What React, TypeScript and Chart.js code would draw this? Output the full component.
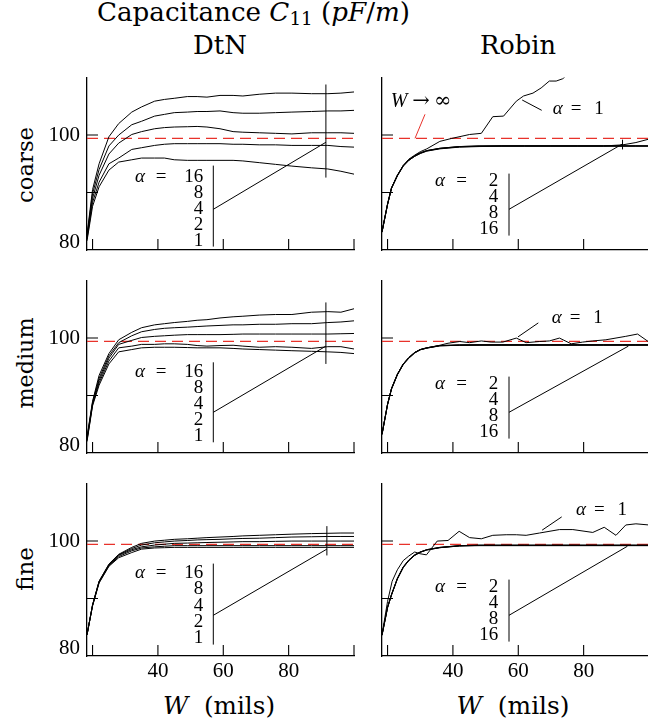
import React, { useEffect, useLayoutEffect, useRef, useState } from 'react';
import { Chart, registerables } from 'chart.js';

Chart.register(...registerables);

// ---------- axes ----------
const X_MIN = 18.3;
const X_MAX = 100;
const Y_MIN = 80;
const Y_MAX = 110;
const X_TICKS = [20, 40, 60, 80, 100];
const X_TICK_LABELS = [40, 60, 80];
const Y_TICKS = [80, 90, 100];
const Y_TICK_LABELS = [80, 100];
const C_INFINITY = 99.43;

const ALPHA_DTN = ['16', '8', '4', '2', '1'];
const ALPHA_ROBIN = ['2', '4', '8', '16'];

// ---------- DtN data ----------
const W_DTN = [18.3, 20, 22, 25, 28, 32, 35, 39, 42, 45, 49, 52, 55, 59, 63, 66, 71, 76, 81, 87, 92, 96, 100];

const COARSE_DTN_16 = [82.7, 90.5, 95.0, 99.7, 102.0, 104.0, 104.9, 105.9, 106.2, 106.4, 106.7, 106.7, 106.6, 106.9, 106.9, 106.8, 107.1, 107.3, 107.3, 107.2, 107.2, 107.3, 107.5];
const COARSE_DTN_8 = [82.4, 89.8, 94.0, 98.1, 100.0, 101.8, 102.4, 103.3, 103.6, 103.9, 104.0, 104.1, 104.1, 104.2, 103.9, 103.8, 103.8, 103.9, 104.0, 104.1, 104.2, 104.2, 104.3];
const COARSE_DTN_4 = [82.2, 89.0, 93.0, 96.7, 98.6, 100.1, 100.6, 101.1, 101.3, 101.4, 101.45, 101.5, 101.4, 101.1, 100.6, 100.5, 100.4, 100.3, 100.2, 100.4, 100.4, 100.4, 100.3];
const COARSE_DTN_2 = [81.9, 88.3, 91.8, 95.0, 96.0, 97.5, 97.8, 98.2, 98.4, 98.5, 98.5, 98.5, 98.5, 98.5, 98.4, 98.4, 98.3, 98.3, 98.2, 98.2, 98.2, 98.0, 97.9];
const COARSE_DTN_1 = [81.6, 87.6, 91.0, 93.9, 95.3, 95.7, 96.0, 96.0, 96.0, 95.7, 95.6, 95.6, 95.6, 95.6, 95.6, 95.5, 95.2, 94.9, 94.6, 94.3, 94.1, 93.7, 93.2];

const MEDIUM_DTN_16 = [82.8, 89.0, 93.5, 97.3, 99.7, 101.0, 101.8, 102.3, 102.5, 102.7, 102.9, 103.1, 103.2, 103.5, 103.7, 103.8, 104.0, 104.1, 104.1, 104.5, 104.6, 104.5, 105.1];
const MEDIUM_DTN_8 = [82.6, 88.8, 93.0, 96.9, 99.2, 100.4, 101.1, 101.5, 101.7, 101.8, 101.9, 102.0, 102.1, 102.2, 102.3, 102.3, 102.4, 102.4, 102.5, 102.5, 102.7, 102.8, 103.0];
const MEDIUM_DTN_4 = [82.4, 88.6, 92.6, 96.5, 98.9, 99.6, 100.1, 100.3, 100.4, 100.5, 100.6, 100.6, 100.6, 100.6, 100.65, 100.7, 100.7, 100.7, 100.7, 100.7, 100.7, 100.75, 100.8];
const MEDIUM_DTN_2 = [82.2, 88.4, 92.2, 96.0, 98.3, 98.6, 98.9, 98.9, 99.0, 99.0, 98.9, 98.7, 98.6, 98.7, 98.75, 98.6, 98.4, 98.5, 98.4, 98.2, 98.5, 98.5, 98.1];
const MEDIUM_DTN_1 = [82.0, 88.2, 91.8, 95.5, 97.6, 98.0, 98.3, 98.4, 98.4, 98.4, 98.35, 98.3, 98.3, 98.3, 98.2, 98.1, 98.0, 97.9, 97.8, 97.7, 97.6, 97.5, 97.3];

const FINE_DTN_16 = [83.7, 88.9, 93.0, 96.0, 97.7, 98.9, 99.6, 100.0, 100.15, 100.3, 100.4, 100.5, 100.6, 100.7, 100.8, 100.9, 101.0, 101.1, 101.2, 101.3, 101.35, 101.4, 101.4];
const FINE_DTN_8 = [83.7, 88.9, 93.0, 95.9, 97.6, 98.7, 99.3, 99.7, 99.85, 100.0, 100.1, 100.2, 100.25, 100.3, 100.4, 100.45, 100.5, 100.6, 100.7, 100.75, 100.8, 100.8, 100.8];
const FINE_DTN_4 = [83.7, 88.8, 92.9, 95.8, 97.5, 98.5, 99.0, 99.3, 99.45, 99.6, 99.65, 99.7, 99.75, 99.8, 99.85, 99.9, 99.9, 99.95, 100.0, 100.0, 100.0, 100.0, 100.0];
const FINE_DTN_2 = [83.7, 88.8, 92.8, 95.7, 97.3, 98.3, 98.8, 99.0, 99.1, 99.2, 99.2, 99.2, 99.2, 99.2, 99.2, 99.2, 99.2, 99.2, 99.2, 99.2, 99.2, 99.2, 99.2];
const FINE_DTN_1 = [83.7, 88.7, 92.7, 95.6, 97.1, 98.0, 98.6, 98.8, 98.85, 98.9, 98.9, 98.9, 98.9, 98.9, 98.9, 98.9, 98.9, 98.9, 98.9, 98.9, 98.9, 98.9, 98.9];

// ---------- Robin data ----------
const W_ROBIN = [18.3, 20, 21.2, 23, 24.8, 26.5, 28.3, 30, 32, 36, 42, 48, 55, 62, 70, 78, 86, 92, 96, 100];

const COARSE_ROBIN_2 = [83.2, 88.0, 90.8, 93.0, 94.7, 95.7, 96.4, 96.9, 97.3, 97.7, 98.0, 98.1, 98.1, 98.1, 98.1, 98.1, 98.1, 98.3, 98.7, 99.3];
const COARSE_ROBIN_4 = [83.2, 88.0, 90.8, 93.0, 94.7, 95.7, 96.4, 96.9, 97.3, 97.7, 98.0, 98.1, 98.15, 98.15, 98.15, 98.15, 98.15, 98.15, 98.15, 98.15];
const COARSE_ROBIN_8 = [83.1, 87.9, 90.7, 92.9, 94.6, 95.6, 96.3, 96.8, 97.25, 97.65, 97.95, 98.05, 98.1, 98.1, 98.1, 98.1, 98.1, 98.1, 98.1, 98.1];
const COARSE_ROBIN_16 = [83.1, 87.9, 90.7, 92.9, 94.6, 95.6, 96.3, 96.8, 97.2, 97.6, 97.9, 98.0, 98.05, 98.05, 98.05, 98.05, 98.05, 98.05, 98.05, 98.05];
const W_COARSE_ROBIN_1 = [18.3, 20, 21.2, 23, 24.8, 26.5, 28.3, 30, 32, 36, 39.5, 45.1, 48.7, 52.2, 55.5, 59.4, 61.6, 64.5, 67, 69.5, 71.6, 73.6, 76, 80];
const COARSE_ROBIN_1 = [83.2, 88.0, 90.8, 93.0, 94.7, 95.8, 96.5, 97.1, 97.6, 98.9, 99.4, 100.1, 100.3, 103.2, 103.3, 105.9, 106.8, 107.3, 108.2, 109.4, 109.4, 109.8, 111.0, 112.0];

const MEDIUM_ROBIN_2 = [83.3, 88.5, 91.2, 93.7, 95.5, 96.6, 97.5, 98.0, 98.3, 98.7, 98.8, 98.85, 98.85, 98.85, 98.85, 98.85, 98.85, 98.85, 98.85, 98.85];
const MEDIUM_ROBIN_4 = [83.3, 88.5, 91.2, 93.7, 95.5, 96.6, 97.5, 98.0, 98.3, 98.7, 98.8, 98.8, 98.8, 98.8, 98.8, 98.8, 98.8, 98.8, 98.8, 98.8];
const MEDIUM_ROBIN_8 = [83.2, 88.4, 91.1, 93.6, 95.4, 96.5, 97.4, 97.95, 98.25, 98.65, 98.75, 98.8, 98.8, 98.8, 98.8, 98.8, 98.8, 98.8, 98.8, 98.8];
const MEDIUM_ROBIN_16 = [83.2, 88.4, 91.1, 93.6, 95.4, 96.5, 97.4, 97.95, 98.25, 98.65, 98.75, 98.75, 98.75, 98.75, 98.75, 98.75, 98.75, 98.75, 98.75, 98.75];
const W_MEDIUM_ROBIN_1 = [18.3, 20, 21.2, 23, 24.8, 26.5, 28.3, 30, 32, 36, 38.5, 42.1, 45.1, 48.7, 51.7, 55.3, 59.4, 62.4, 66.5, 69.5, 72.6, 76.2, 79.7, 82.8, 86.8, 92.9, 96.5, 100];
const MEDIUM_ROBIN_1 = [83.3, 88.5, 91.2, 93.7, 95.5, 96.6, 97.5, 98.0, 98.3, 98.75, 99.1, 99.4, 99.2, 99.5, 99.3, 99.3, 100.0, 99.2, 99.4, 99.5, 100.0, 99.0, 99.3, 99.5, 99.7, 100.3, 100.7, 99.3];

const FINE_ROBIN_2 = [83.7, 88.5, 90.7, 93.5, 95.5, 96.7, 97.6, 98.1, 98.5, 98.9, 99.2, 99.3, 99.3, 99.3, 99.3, 99.3, 99.3, 99.3, 99.3, 99.3];
const FINE_ROBIN_4 = [83.7, 88.5, 90.7, 93.5, 95.5, 96.7, 97.6, 98.1, 98.5, 98.9, 99.2, 99.25, 99.25, 99.25, 99.25, 99.25, 99.25, 99.25, 99.25, 99.25];
const FINE_ROBIN_8 = [83.6, 88.4, 90.6, 93.4, 95.4, 96.6, 97.5, 98.05, 98.45, 98.85, 99.15, 99.25, 99.25, 99.25, 99.25, 99.25, 99.25, 99.25, 99.25, 99.25];
const FINE_ROBIN_16 = [83.6, 88.4, 90.6, 93.4, 95.4, 96.6, 97.5, 98.05, 98.45, 98.85, 99.15, 99.2, 99.2, 99.2, 99.2, 99.2, 99.2, 99.2, 99.2, 99.2];
const W_FINE_ROBIN_1 = [18.3, 20, 21.4, 23, 24.8, 26.5, 28.3, 29.9, 31.9, 35.2, 38.5, 41.9, 45.1, 48.7, 52.2, 56.3, 59.4, 62.4, 66.5, 72.6, 76.7, 82.8, 86.3, 89.9, 92.9, 96.0, 100];
const FINE_ROBIN_1 = [83.7, 89.5, 93.0, 95.0, 96.6, 97.4, 98.1, 97.8, 97.6, 100.0, 100.1, 101.7, 100.6, 100.4, 101.0, 101.1, 101.1, 101.0, 101.4, 102.0, 102.0, 101.5, 102.4, 101.0, 102.8, 103.0, 102.8];

// ---------- layout ----------
const SERIF = "'DejaVu Serif', serif";
const NUM_FONT = "'Liberation Serif', serif";
const Y_AXIS_W = 40;
const X_AXIS_H = 30;
const PAD_T = 16;
const PAD_R = 2;
const PLOT_W = 268;
const PLOT_H = 176;
const CANVAS_W = Y_AXIS_W + PLOT_W + PAD_R;
const CANVAS_H = PAD_T + PLOT_H + X_AXIS_H;
const COL_LEFT = [87, 382];
const ROW_TOP = [74, 277, 480];
const TICK_LEN = 11;
const ANNOT_SIZE = 19;
const ASC = 0.846; // baseline offset (em) inside a line-height:1 box

type Series = { x: number[]; y: number[] };
type Legend = {
  labels: string[]; alphaLeft: number; eqCenter: number; numRight: number;
  firstY: number; step: number; barX: number; barTop: number; barBottom: number;
  leaderY: number; target: [number, number];
};
type PanelCfg = {
  row: number; col: number; series: Series[]; legend: Legend;
  marker?: { w: number; lo: number; hi: number };
  alpha1?: { left: number; cy: number; from: [number, number]; to: [number, number] };
  inf?: { left: number; cy: number; from: [number, number]; toW: number };
};

const dtnLegend = (firstY: number, step: number, barTop: number, barBottom: number, target: [number, number]): Legend => ({
  labels: ALPHA_DTN, alphaLeft: 48, eqCenter: 74, numRight: 116.3, firstY, step,
  barX: 126.3, barTop, barBottom, leaderY: 131.7, target,
});
const robinLegend = (target: [number, number]): Legend => ({
  labels: ALPHA_ROBIN, alphaLeft: 53, eqCenter: 79.7, numRight: 116.3, firstY: 103.3, step: 16.1,
  barX: 127, barTop: 96, barBottom: 158, leaderY: 131.7, target,
});

const s = (x: number[], y: number[]): Series => ({ x, y });

const PANELS: PanelCfg[] = [
  {
    row: 0, col: 0,
    series: [s(W_DTN, COARSE_DTN_16), s(W_DTN, COARSE_DTN_8), s(W_DTN, COARSE_DTN_4), s(W_DTN, COARSE_DTN_2), s(W_DTN, COARSE_DTN_1)],
    legend: dtnLegend(99, 16, 88, 169, [91.4, 98.75]),
    marker: { w: 91.4, lo: 92.6, hi: 108.8 },
  },
  {
    row: 0, col: 1,
    series: [s(W_ROBIN, COARSE_ROBIN_2), s(W_ROBIN, COARSE_ROBIN_4), s(W_ROBIN, COARSE_ROBIN_8), s(W_ROBIN, COARSE_ROBIN_16), s(W_COARSE_ROBIN_1, COARSE_ROBIN_1)],
    legend: robinLegend([91.9, 98.46]),
    marker: { w: 91.9, lo: 97.5, hi: 99.2 },
    alpha1: { left: 170.7, cy: 31, from: [159.7, 32.7], to: [61.2, 106.1] },
    inf: { left: 8.7, cy: 24.3, from: [43, 36.7], toW: 28.4 },
  },
  {
    row: 1, col: 0,
    series: [s(W_DTN, MEDIUM_DTN_16), s(W_DTN, MEDIUM_DTN_8), s(W_DTN, MEDIUM_DTN_4), s(W_DTN, MEDIUM_DTN_2), s(W_DTN, MEDIUM_DTN_1)],
    legend: dtnLegend(91, 16, 81.7, 161.7, [91.4, 98.6]),
    marker: { w: 91.4, lo: 95.5, hi: 106.2 },
  },
  {
    row: 1, col: 1,
    series: [s(W_ROBIN, MEDIUM_ROBIN_2), s(W_ROBIN, MEDIUM_ROBIN_4), s(W_ROBIN, MEDIUM_ROBIN_8), s(W_ROBIN, MEDIUM_ROBIN_16), s(W_MEDIUM_ROBIN_1, MEDIUM_ROBIN_1)],
    legend: robinLegend([93.7, 98.6]),
    alpha1: { left: 169.7, cy: 37.3, from: [156.3, 42.3], to: [59.9, 100.2] },
  },
  {
    row: 2, col: 0,
    series: [s(W_DTN, FINE_DTN_16), s(W_DTN, FINE_DTN_8), s(W_DTN, FINE_DTN_4), s(W_DTN, FINE_DTN_2), s(W_DTN, FINE_DTN_1)],
    legend: dtnLegend(89.3, 16.4, 80, 161, [91.7, 98.6]),
    marker: { w: 91.7, lo: 97.5, hi: 102.6 },
  },
  {
    row: 2, col: 1,
    series: [s(W_ROBIN, FINE_ROBIN_2), s(W_ROBIN, FINE_ROBIN_4), s(W_ROBIN, FINE_ROBIN_8), s(W_ROBIN, FINE_ROBIN_16), s(W_FINE_ROBIN_1, FINE_ROBIN_1)],
    legend: robinLegend([93.4, 99.1]),
    alpha1: { left: 194, cy: 26.7, from: [179.7, 33.3], to: [67.3, 101.9] },
  },
];

function decorPlugin(cfg: PanelCfg) {
  return {
    id: 'decor',
    afterDraw(chart: any) {
      const { ctx, chartArea: a, scales } = chart;
      const xs = scales.x;
      const ys = scales.y;
      const px = (w: number) => xs.getPixelForValue(w);
      const py = (v: number) => ys.getPixelForValue(v);
      ctx.save();
      ctx.strokeStyle = '#000';
      ctx.lineWidth = 1.1;
      ctx.beginPath();
      xs.ticks.forEach((t: any) => {
        const x = px(t.value);
        ctx.moveTo(x, a.bottom);
        ctx.lineTo(x, a.bottom - TICK_LEN);
      });
      ys.ticks.forEach((t: any) => {
        if (t.value === Y_MIN) return;
        const y = py(t.value);
        ctx.moveTo(a.left, y);
        ctx.lineTo(a.left + TICK_LEN, y);
      });
      ctx.stroke();

      const L = cfg.legend;
      ctx.fillStyle = '#000';
      ctx.textBaseline = 'middle';
      ctx.font = `italic ${ANNOT_SIZE}px ${NUM_FONT}`;
      ctx.textAlign = 'left';
      ctx.fillText('α', a.left + L.alphaLeft, a.top + L.firstY);
      ctx.font = `${ANNOT_SIZE}px ${NUM_FONT}`;
      ctx.textAlign = 'center';
      ctx.fillText('=', a.left + L.eqCenter, a.top + L.firstY);
      ctx.textAlign = 'right';
      L.labels.forEach((lab, i) => ctx.fillText(lab, a.left + L.numRight, a.top + L.firstY + i * L.step));
      ctx.lineWidth = 1;
      ctx.beginPath();
      ctx.moveTo(a.left + L.barX, a.top + L.barTop);
      ctx.lineTo(a.left + L.barX, a.top + L.barBottom);
      ctx.moveTo(a.left + L.barX, a.top + L.leaderY);
      ctx.lineTo(px(L.target[0]), py(L.target[1]));
      if (cfg.marker) {
        const mx = px(cfg.marker.w);
        ctx.moveTo(mx, py(cfg.marker.lo));
        ctx.lineTo(mx, py(cfg.marker.hi));
      }
      if (cfg.alpha1) {
        ctx.moveTo(a.left + cfg.alpha1.from[0], a.top + cfg.alpha1.from[1]);
        ctx.lineTo(px(cfg.alpha1.to[0]), py(cfg.alpha1.to[1]));
      }
      ctx.stroke();

      if (cfg.alpha1) {
        const x0 = a.left + cfg.alpha1.left;
        const y0 = a.top + cfg.alpha1.cy;
        ctx.textAlign = 'left';
        ctx.font = `italic ${ANNOT_SIZE}px ${NUM_FONT}`;
        ctx.fillText('α', x0, y0);
        ctx.font = `${ANNOT_SIZE}px ${NUM_FONT}`;
        ctx.textAlign = 'center';
        ctx.fillText('=', x0 + 23.3, y0);
        ctx.textAlign = 'left';
        ctx.fillText('1', x0 + 41.5, y0);
      }
      if (cfg.inf) {
        const x0 = a.left + cfg.inf.left;
        const y0 = a.top + cfg.inf.cy;
        ctx.textAlign = 'left';
        ctx.font = `italic 20px ${NUM_FONT}`;
        ctx.fillText('W', x0, y0);
        const ww = ctx.measureText('W').width;
        ctx.font = `21px ${SERIF}`;
        ctx.fillText('→', x0 + ww + 5, y0);
        const wa = ctx.measureText('→').width;
        ctx.fillText('∞', x0 + ww + 5 + wa + 4, y0);
        ctx.strokeStyle = '#e8322b';
        ctx.beginPath();
        ctx.moveTo(a.left + cfg.inf.from[0], a.top + cfg.inf.from[1]);
        ctx.lineTo(px(cfg.inf.toW), py(C_INFINITY));
        ctx.stroke();
      }
      ctx.restore();
    },
  };
}

function Panel({ cfg }: { cfg: PanelCfg }) {
  const ref = useRef<HTMLCanvasElement>(null);
  useEffect(() => {
    const datasets: any[] = cfg.series.map((se) => ({
      data: se.x.map((x, i) => ({ x, y: se.y[i] })),
      borderColor: '#000',
      borderWidth: 1,
      pointRadius: 0,
      tension: 0,
      fill: false,
    }));
    datasets.push({
      data: [{ x: X_MIN, y: C_INFINITY }, { x: X_MAX, y: C_INFINITY }],
      borderColor: '#e8322b',
      borderWidth: 1.3,
      borderDash: [11, 6],
      pointRadius: 0,
      fill: false,
    });
    const showY = cfg.col === 0;
    const showX = cfg.row === 2;
    const chart = new Chart(ref.current as HTMLCanvasElement, {
      type: 'line',
      data: { datasets },
      options: {
        animation: false,
        responsive: false,
        events: [],
        layout: { padding: { top: PAD_T, right: PAD_R, left: 0, bottom: 0 } },
        plugins: { legend: { display: false }, tooltip: { enabled: false }, title: { display: false } },
        scales: {
          x: {
            type: 'linear',
            min: X_MIN,
            max: X_MAX,
            grid: { drawOnChartArea: false, drawTicks: false },
            border: { display: true, color: '#000', width: 1.3 },
            afterBuildTicks: (sc: any) => { sc.ticks = X_TICKS.map((v) => ({ value: v })); },
            afterFit: (sc: any) => { sc.height = X_AXIS_H; },
            ticks: {
              autoSkip: false,
              maxRotation: 0,
              minRotation: 0,
              padding: 3,
              color: '#000',
              font: { family: NUM_FONT, size: 21 },
              callback: (v: any) => (showX && X_TICK_LABELS.includes(Number(v)) ? String(v) : ''),
            },
          },
          y: {
            type: 'linear',
            min: Y_MIN,
            max: Y_MAX,
            grid: { drawOnChartArea: false, drawTicks: false },
            border: { display: true, color: '#000', width: 1.3 },
            afterBuildTicks: (sc: any) => { sc.ticks = Y_TICKS.map((v) => ({ value: v })); },
            afterFit: (sc: any) => { sc.width = Y_AXIS_W; },
            ticks: {
              autoSkip: false,
              padding: 7,
              color: '#000',
              font: (c: any) => ({ family: NUM_FONT, size: 21, lineHeight: c.tick && c.tick.value === Y_MIN ? 0.7 : 1.2 }),
              callback: (v: any) => {
                const n = Number(v);
                if (!showY || !Y_TICK_LABELS.includes(n)) return '';
                return n === Y_MIN ? [String(n), ''] : String(n);
              },
            },
          },
        },
      } as any,
      plugins: [decorPlugin(cfg)],
    });
    return () => chart.destroy();
  }, [cfg]);
  return (
    <canvas
      ref={ref}
      width={CANVAS_W}
      height={CANVAS_H}
      style={{
        position: 'absolute',
        left: COL_LEFT[cfg.col] - Y_AXIS_W,
        top: ROW_TOP[cfg.row] - PAD_T,
        width: CANVAS_W,
        height: CANVAS_H,
      }}
    />
  );
}

// Text that is sized so that its width matches a target width.
function FitText(props: {
  children: React.ReactNode; width: number; x: number; baseline: number;
  anchor: 'left' | 'center'; rotate?: boolean;
}) {
  const ref = useRef<HTMLDivElement>(null);
  const [fs, setFs] = useState(24);
  useLayoutEffect(() => {
    const el = ref.current;
    if (!el) return;
    const w = el.offsetWidth;
    if (w > 0) setFs((24 * props.width) / w);
  }, []);
  const common: React.CSSProperties = {
    position: 'absolute',
    fontFamily: SERIF,
    fontSize: fs,
    lineHeight: 1,
    whiteSpace: 'nowrap',
    color: '#000',
  };
  let style: React.CSSProperties;
  if (props.rotate) {
    style = { ...common, left: props.x - (ASC - 0.5) * fs, top: props.baseline, transform: 'translate(-50%, -50%) rotate(-90deg)' };
  } else {
    style = {
      ...common,
      left: props.x,
      top: props.baseline - ASC * fs,
      transform: props.anchor === 'center' ? 'translateX(-50%)' : undefined,
    };
  }
  return <div ref={ref} style={style}>{props.children}</div>;
}

export default function App() {
  return (
    <div style={{ position: 'fixed', left: 0, top: 0, width: 648, height: 725, overflow: 'hidden', background: '#fff' }}>
      <FitText width={313} x={97} baseline={20.7} anchor="left">
        Capacitance <i>C</i>
        <span style={{ fontSize: '0.7em', position: 'relative', top: '0.22em' }}>11</span> (<i>pF</i>/<i>m</i>)
      </FitText>
      <FitText width={54} x={220} baseline={55} anchor="center">DtN</FitText>
      <FitText width={76} x={518} baseline={55} anchor="center">Robin</FitText>
      <FitText width={76} x={33} baseline={165} anchor="center" rotate>coarse</FitText>
      <FitText width={91} x={33} baseline={362.5} anchor="center" rotate>medium</FitText>
      <FitText width={44} x={33} baseline={569} anchor="center" rotate>fine</FitText>
      <FitText width={112} x={219} baseline={715} anchor="center"><i>W</i>&nbsp;&nbsp;(mils)</FitText>
      <FitText width={113} x={513} baseline={715} anchor="center"><i>W</i>&nbsp;&nbsp;(mils)</FitText>
      {PANELS.map((p, i) => (
        <Panel key={i} cfg={p} />
      ))}
    </div>
  );
}
